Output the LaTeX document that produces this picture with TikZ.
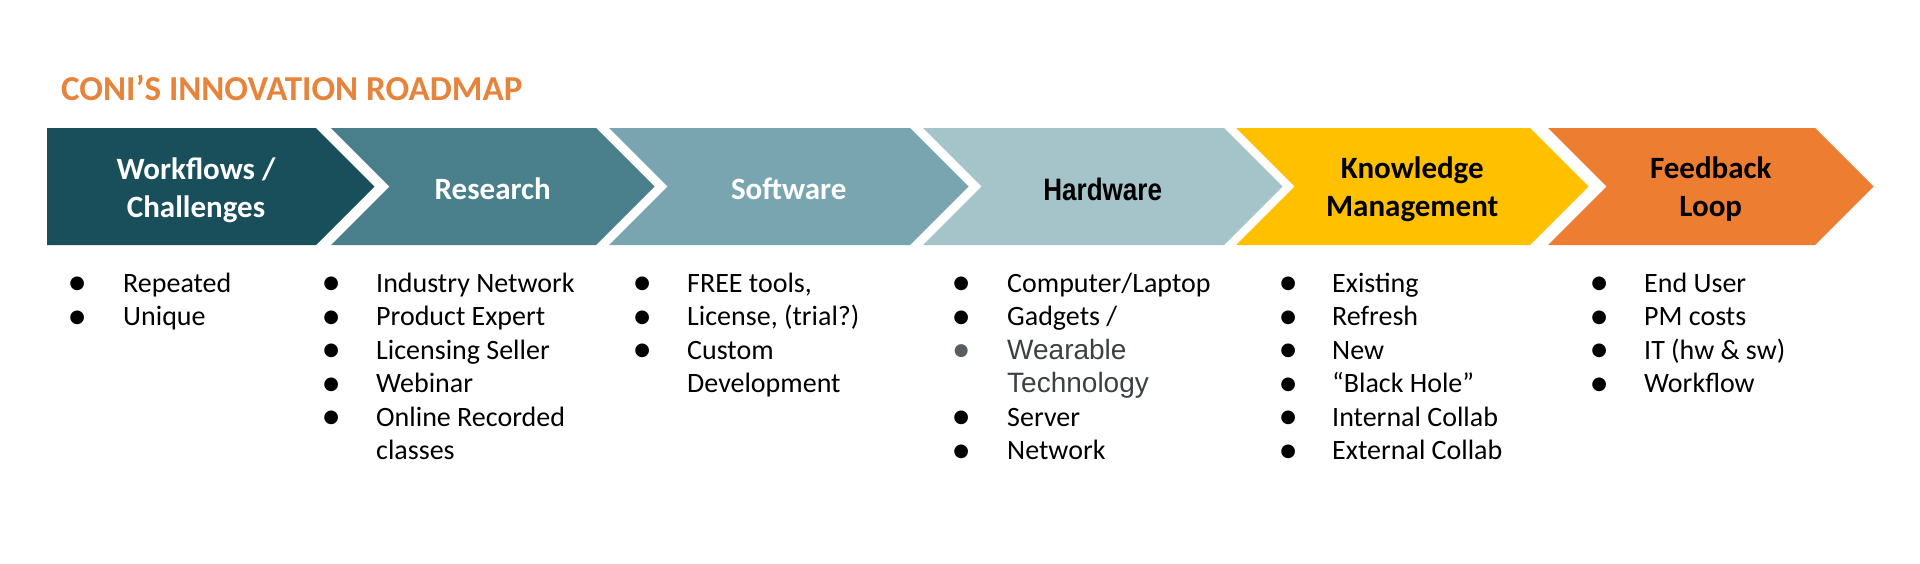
\documentclass[tikz,border=0pt]{standalone}
\usepackage{xcolor}
\usepackage{fontspec}
\setmainfont{Carlito}
\newfontfamily\narrowfont[FakeStretch=0.84]{Liberation Sans}
\newfontfamily\grayfont{Liberation Sans}
\newfontfamily\dotfont{DejaVu Sans}
\usepackage{tikz}

\definecolor{workflow}{HTML}{194F5B}
\definecolor{research}{HTML}{4A7F8C}
\definecolor{software}{HTML}{78A5AF}
\definecolor{hardware}{HTML}{A4C4CA}
\definecolor{knowledge}{HTML}{FFC000}
\definecolor{feedback}{HTML}{ED7D31}
\definecolor{titleorange}{HTML}{E6843B}
\definecolor{textgray}{HTML}{3C4043}

\newcommand{\hwfont}{\narrowfont\fontsize{31}{37}\selectfont}
\newcommand{\grytext}{\grayfont\color{textgray}\fontsize{28}{33.5}\selectfont}
\newcommand{\bul}{\makebox[0pt]{\raisebox{3.5pt}{\dotfont\fontsize{18}{18}\selectfont ●}}}
\newcommand{\gbul}{\makebox[0pt]{\raisebox{3.5pt}{\dotfont\color{textgray!85}\fontsize{17}{17}\selectfont ●}}}
\newcommand{\nob}{}

\begin{document}
\begin{tikzpicture}[x=1pt, y=-1pt,
    head/.style={align=center, inner sep=0pt, font=\fontsize{31}{38}\selectfont\bfseries},
    item/.style={anchor=base west, inner sep=0pt, font=\fontsize{28}{33.5}\selectfont},
    title/.style={anchor=base west, inner sep=0pt, text=titleorange, font=\fontsize{35}{42}\selectfont\bfseries}]
    \useasboundingbox[fill=white] (0,0) rectangle (1920,563);

    \node[title] (title) at (61,100) {CONI’S INNOVATION ROADMAP};

    % first step: flat left end
    \fill[workflow] (47,128) -- (316,128) -- (374.5,186.5) -- (316,245) -- (47,245) -- cycle;
    \node[head, text=white] (wf) at (196,190) {Workflows /\\Challenges};

    % the other steps: notched chevrons
    \foreach \x/\w/\fc/\tc/\n/\txt in {
        331/265/research/white/res/Research,
        609/301/software/white/sw/Software,
        923/301/hardware/black/hw/{\hwfont Hardware},
        1236/294/knowledge/black/km/{Knowledge\\Management},
        1548/267/feedback/black/fb/{Feedback\\Loop}}
    {
        \fill[\fc] (\x,128) -- ++(\w,0) -- ++(58.5,58.5) -- ++(-58.5,58.5)
            -- ++(-\w,0) -- ++(58.5,-58.5) -- cycle;
        \node[head, text=\tc] (\n) at (\x+29.25+0.5*\w,189) {\txt};
    }

    % bullet lists
    \foreach \m/\t [count=\i from 0] in {\bul/Repeated, \bul/Unique}
        \node[item] (wf-\i) at (77,292+33.5*\i) {\makebox[46pt][l]{\m}\t};

    \foreach \m/\t [count=\i from 0] in {\bul/Industry Network, \bul/Product Expert,
            \bul/Licensing Seller, \bul/Webinar, \bul/Online Recorded, \nob/classes}
        \node[item] (res-\i) at (331,292+33.5*\i) {\makebox[45pt][l]{\m}\t};

    \foreach \m/\t [count=\i from 0] in {\bul/{FREE tools,}, \bul/{License, (trial?)},
            \bul/Custom, \nob/Development}
        \node[item] (sw-\i) at (642,292+33.5*\i) {\makebox[45pt][l]{\m}\t};

    \foreach \m/\t [count=\i from 0] in {\bul/{Computer/Laptop}, \bul/{Gadgets /},
            \gbul/{\grytext Wearable}, \nob/{\grytext Technology}, \bul/Server, \bul/Network}
        \node[item] (hw-\i) at (961,292+33.5*\i) {\makebox[46pt][l]{\m}\t};

    \foreach \m/\t [count=\i from 0] in {\bul/Existing, \bul/Refresh, \bul/New,
            \bul/“Black Hole”, \bul/Internal Collab, \bul/External Collab}
        \node[item] (km-\i) at (1288,292+33.5*\i) {\makebox[44pt][l]{\m}\t};

    \foreach \m/\t [count=\i from 0] in {\bul/End User, \bul/PM costs,
            \bul/IT (hw \& sw), \bul/Workflow}
        \node[item] (fb-\i) at (1599,292+33.5*\i) {\makebox[45pt][l]{\m}\t};
\end{tikzpicture}
\end{document}
